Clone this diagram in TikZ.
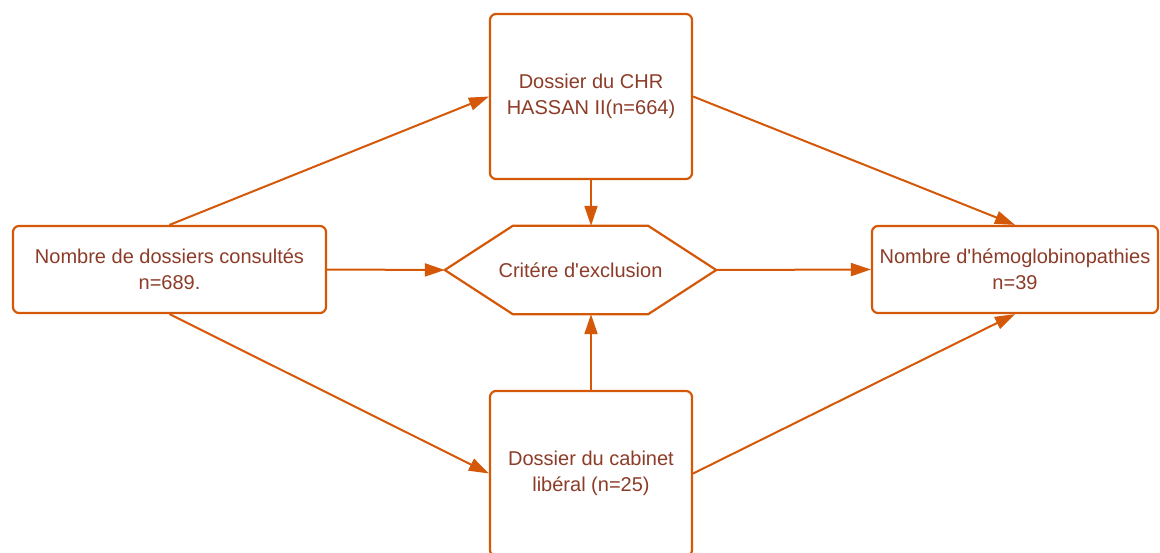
\documentclass[tikz,border=0pt]{standalone}
\usepackage{fontspec}
\setmainfont{Liberation Sans}[Ligatures=TeXOff]
\usetikzlibrary{arrows.meta}
\definecolor{edgecol}{RGB}{212,88,8}
\definecolor{txtcol}{RGB}{140,60,40}
\begin{document}
\begin{tikzpicture}[x=1pt,y=-1pt,
  box/.style={draw=edgecol, line width=2.2pt, rounded corners=6pt, fill=white, text=txtcol,
    align=center, inner sep=0pt, font=\fontsize{20}{26}\selectfont},
  hexlabel/.style={text=txtcol, align=center, inner sep=0pt, font=\fontsize{20}{26}\selectfont},
  conn/.style={draw=edgecol, line width=2pt, -{Triangle[length=20pt,width=13pt]}},
  hexline/.style={draw=edgecol, line width=2.2pt, line join=miter}]
\useasboundingbox (0,0) rectangle (1160,552);
\clip (0,0) rectangle (1160,552);
\fill[white] (0,0) rectangle (1160,552);
\node[box, minimum width=313pt, minimum height=87pt] (left) at (169.5,269.5) {Nombre de dossiers consultés\\n=689.};
\node[box, minimum width=202pt, minimum height=165pt] (top) at (591,96.5) {Dossier du CHR\\HASSAN II(n=664)};
\node[box, minimum width=202pt, minimum height=165pt] (bot) at (591,473.5) {Dossier du cabinet\\libéral (n=25)};
\node[box, minimum width=286pt, minimum height=87pt] (right) at (1015,269.5) {Nombre d'hémoglobinopathies\\n=39};
\node[hexlabel, minimum width=271pt, minimum height=88pt] (hex) at (580.5,270) {Critére d'exclusion};
\draw[hexline] (hex.west) -- ([xshift=68pt]hex.north west) -- ([xshift=-68pt]hex.north east)
  -- (hex.east) -- ([xshift=-68pt]hex.south east) -- ([xshift=68pt]hex.south west) -- cycle;
\draw[conn] (left.north) -- (top.west);
\draw[conn] (left.east) -- (hex.west);
\draw[conn] (left.south) -- (bot.west);
\draw[conn] (top.south) -- (top.south |- hex.north);
\draw[conn] (bot.north) -- (bot.north |- hex.south);
\draw[conn] (hex.east) -- (right.west);
\draw[conn] (top.east) -- (right.north);
\draw[conn] (bot.east) -- (right.south);
\end{tikzpicture}
\end{document}
